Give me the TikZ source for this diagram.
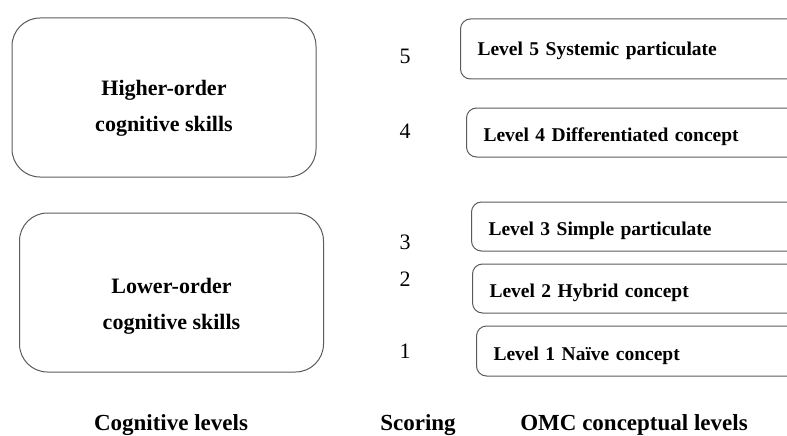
\documentclass[tikz,border=0pt]{standalone}
\usepackage{fontspec}
\setmainfont{Liberation Serif}
\usetikzlibrary{positioning}
\definecolor{boxline}{RGB}{90,90,90}

\begin{document}
\begin{tikzpicture}[x=1pt, y=-1pt,
  skillbox/.style={draw=boxline, line width=1pt, rounded corners=28pt,
              minimum width=304pt, minimum height=159pt},
  skilltext/.style={align=center, font=\fontsize{22}{36}\selectfont\bfseries},
  levelbox/.style={draw=boxline, line width=1pt, rounded corners=10pt, anchor=west,
              minimum width=340pt, minimum height=#1, inner xsep=17pt,
              text width=306pt, align=left, text height=18.5pt, text depth=0pt,
              font=\fontsize{19.5}{22}\selectfont\bfseries},
  score/.style={font=\fontsize{22}{24}\selectfont},
  caption/.style={anchor=base, font=\fontsize{23}{26}\selectfont\bfseries}]

  \useasboundingbox (0,0) rectangle (787,436);
  \clip (0,0) rectangle (787,436);

  % cognitive levels
  \node[skillbox] (higher) at (164,  97.5) {};
  \node[skillbox] (lower)  at (171.5,292.5) {};
  \node[skilltext] (highertxt) at ([yshift=-11pt]higher.center) {Higher-order\\cognitive skills};
  \node[skilltext] (lowertxt)  at ([yshift=-13.5pt]lower.center) {Lower-order\\cognitive skills};

  % scores
  \node[score] (s5) at (405, 56)  {5};
  \node[score] (s4) at (405, 131) {4};
  \node[score] (s3) at (405, 242) {3};
  \node[score] (s2) at (405, 279) {2};
  \node[score] (s1) at (405, 351) {1};

  % OMC levels
  \node[levelbox=60pt, text height=13.5pt] (lv5) at (460, 49) {Level 5 Systemic particulate};
  \node[levelbox=49pt] (lv4) at (466, 132.5) {Level 4 Differentiated concept};
  \node[levelbox=49pt] (lv3) at (471, 226.5) {Level 3 Simple particulate};
  \node[levelbox=49pt] (lv2) at (472, 288.5) {Level 2 Hybrid concept};
  \node[levelbox=50pt] (lv1) at (476, 351)   {Level 1 Naïve concept};

  % column captions
  \node[caption] (capcog)   at (171, 430) {Cognitive levels};
  \node[caption] (capscore) at (418, 430) {Scoring};
  \node[caption] (capomc)   at (634, 430) {OMC conceptual levels};
\end{tikzpicture}
\end{document}
